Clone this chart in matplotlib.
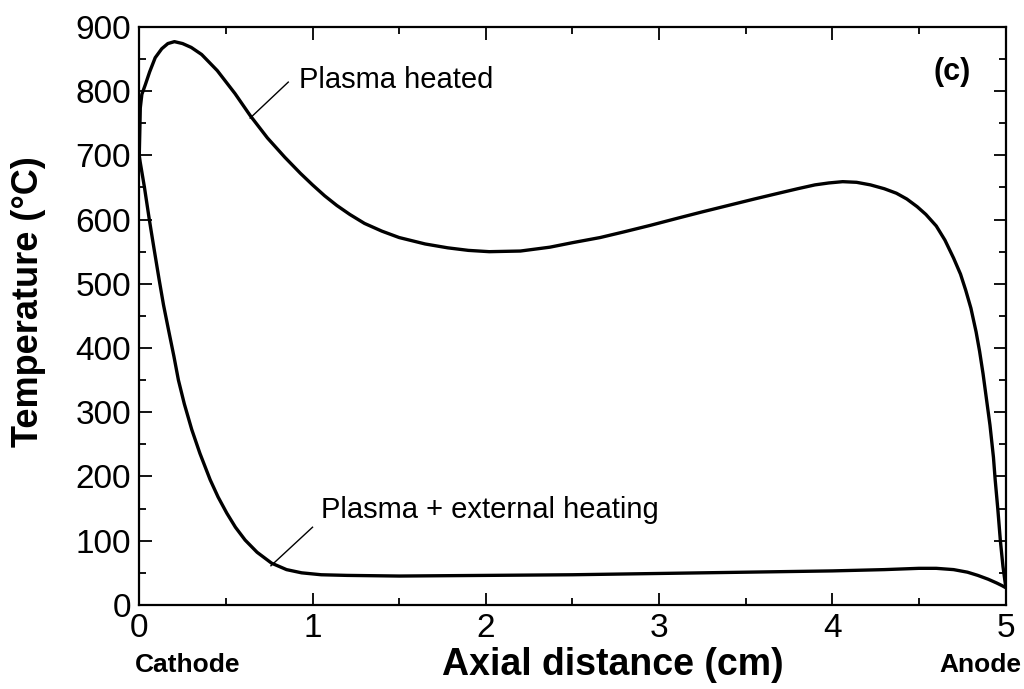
import numpy as np
from matplotlib import pyplot as plt
from matplotlib.ticker import MultipleLocator

plt.rcParams['font.family'] = ['Liberation Sans', 'DejaVu Sans']

# Plasma heated
x_plasma = [0.0, 0.003, 0.006, 0.015, 0.035, 0.06, 0.092, 0.13, 0.165, 0.203, 0.25, 0.3, 0.36,
            0.45, 0.553, 0.64, 0.74, 0.84, 0.93, 1.0, 1.07, 1.14, 1.215, 1.3, 1.4, 1.5, 1.65,
            1.78, 1.9, 2.02, 2.2, 2.37, 2.5, 2.66, 2.8, 2.95, 3.12, 3.25, 3.4, 3.55, 3.69, 3.8,
            3.9, 3.98, 4.06, 4.14, 4.22, 4.3, 4.37, 4.43, 4.49, 4.54, 4.6, 4.65, 4.7, 4.74, 4.77,
            4.8, 4.83, 4.85, 4.87, 4.89, 4.91, 4.93, 4.94, 4.955, 4.97, 4.985, 5.0]
t_plasma = [700, 735, 774, 795, 810, 830, 852, 866, 874, 877, 874, 868, 857,
            832, 796, 762, 727, 697, 672, 654, 637, 622, 608, 594, 582, 572, 562,
            556, 552, 550, 551, 557, 564, 572, 581, 591, 603, 612, 622, 632, 641, 648,
            654, 657, 659, 658, 654, 648, 641, 632, 620, 608, 590, 568, 540, 515, 490,
            462, 425, 395, 360, 320, 280, 230, 195, 150, 100, 60, 30]

# Plasma + external heating
x_ext = [0.0, 0.005, 0.03, 0.058, 0.085, 0.115, 0.14, 0.169, 0.2, 0.226, 0.26, 0.303, 0.35,
         0.409, 0.455, 0.505, 0.555, 0.611, 0.68, 0.764, 0.85, 0.937, 1.05, 1.2, 1.5, 2.0,
         2.5, 3.0, 3.5, 4.0, 4.3, 4.5, 4.6, 4.7, 4.78, 4.84, 4.9, 4.95, 4.98, 5.0]
t_ext = [700, 690, 650, 600, 555, 506, 467, 428, 387, 350, 313, 273, 236,
         195, 168, 143, 121, 101, 82, 65, 55, 50, 47, 46, 45, 46,
         47, 49, 51, 53, 55, 57, 57, 55, 51, 46, 40, 34, 30, 27]

fig = plt.figure(figsize=(10.24, 6.89), dpi=100)
ax = fig.add_axes([0.136, 0.122, 0.846, 0.839])

ax.plot(x_plasma, t_plasma, color='black', lw=2.4, solid_joinstyle='round', solid_capstyle='round')
ax.plot(x_ext, t_ext, color='black', lw=2.4, solid_joinstyle='round', solid_capstyle='round')

ax.set_xlim(0, 5)
ax.set_ylim(0, 900)
ax.xaxis.set_major_locator(MultipleLocator(1))
ax.xaxis.set_minor_locator(MultipleLocator(0.5))
ax.yaxis.set_major_locator(MultipleLocator(100))
ax.yaxis.set_minor_locator(MultipleLocator(50))
ax.tick_params(which='both', direction='in', top=True, right=True, width=1.3)
ax.tick_params(which='major', length=9, labelsize=24, pad=6)
ax.tick_params(which='minor', length=5)
for s in ax.spines.values():
    s.set_linewidth(1.6)

# labels
ax.set_ylabel('Temperature (°C)', fontsize=26, fontweight='bold')
ax.yaxis.set_label_coords(-0.108, 0.524)
fig.text(0.598, 0.035, 'Axial distance (cm)', fontsize=27, fontweight='bold', ha='center', va='center')
fig.text(0.183, 0.035, 'Cathode', fontsize=19, fontweight='bold', ha='center', va='center')
fig.text(0.957, 0.035, 'Anode', fontsize=19, fontweight='bold', ha='center', va='center')

# annotations
ax.plot([0.64, 0.86], [758, 814], color='black', lw=1.0)
ax.text(0.92, 818, 'Plasma heated', fontsize=21, va='center', ha='left')
ax.plot([0.76, 1.0], [61, 121], color='black', lw=1.0)
ax.text(1.05, 148, 'Plasma + external heating', fontsize=21, va='center', ha='left')
ax.text(4.69, 830, '(c)', fontsize=22, fontweight='bold', va='center', ha='center')

plt.savefig('out.png', dpi=100)
